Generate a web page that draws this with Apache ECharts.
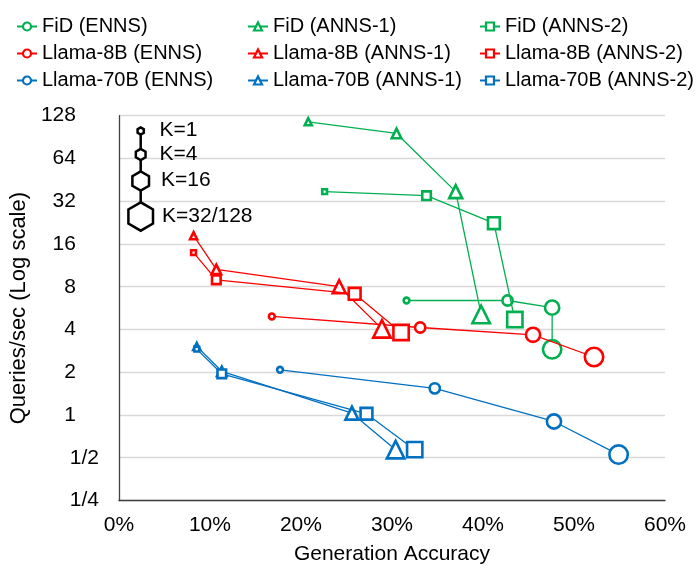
<!DOCTYPE html>
<html><head><meta charset="utf-8">
<script src="https://cdn.jsdelivr.net/npm/echarts@6/dist/echarts.min.js"></script>
<style>html,body{margin:0;padding:0;background:#fff}#c{width:698px;height:575px}</style>
</head><body><div id="c"></div>
<script>
// ---- data (x: generation accuracy %, y: queries/sec), points ordered K=1, K=4, K=16, K=32/128
const kLabels = ['K=1', 'K=4', 'K=16', 'K=32/128'];
const yTickValues = [0.25, 0.5, 1, 2, 4, 8, 16, 32, 64, 128];
const xTickLabels = ['0%', '10%', '20%', '30%', '40%', '50%', '60%'];

const fidENNS      = [[31.6, 6.4], [42.7, 6.4], [47.6, 5.7], [47.6, 2.9]];
const fidANNS1     = [[20.8, 116], [30.5, 96], [37.0, 37.4], [39.8, 5.1]];
const fidANNS2     = [[22.6, 37.4], [33.8, 35.0], [41.2, 22.4], [43.5, 4.7]];
const llama8ENNS   = [[16.8, 4.94], [33.1, 4.13], [45.5, 3.67], [52.2, 2.56]];
const llama8ANNS1  = [[8.2, 18.3], [10.7, 10.6], [24.2, 8.0], [28.9, 4.04]];
const llama8ANNS2  = [[8.2, 13.9], [10.7, 8.95], [25.9, 7.13], [31.0, 3.81]];
const llama70ENNS  = [[17.7, 2.08], [34.7, 1.54], [47.8, 0.90], [54.9, 0.526]];
const llama70ANNS1 = [[8.55, 3.04], [11.3, 2.03], [25.6, 1.03], [30.4, 0.57]];
const llama70ANNS2 = [[8.55, 2.91], [11.3, 1.95], [27.2, 1.02], [32.5, 0.57]];

const seriesNames = [
  'FiD (ENNS)', 'FiD (ANNS-1)', 'FiD (ANNS-2)',
  'Llama-8B (ENNS)', 'Llama-8B (ANNS-1)', 'Llama-8B (ANNS-2)',
  'Llama-70B (ENNS)', 'Llama-70B (ANNS-1)', 'Llama-70B (ANNS-2)'
];
const seriesData = [fidENNS, fidANNS1, fidANNS2, llama8ENNS, llama8ANNS1, llama8ANNS2, llama70ENNS, llama70ANNS1, llama70ANNS2];

// ---- styles
const GREEN = '#00B050', RED = '#FF0000', BLUE = '#0070C0';
const colors = [GREEN, GREEN, GREEN, RED, RED, RED, BLUE, BLUE, BLUE];
const shapes = ['circle', 'triangle', 'rect'];
const shapeSizes = {
  circle:   [5.8, 10.2, 14.2, 18.4],
  triangle: [7, 9.5, 13, 17.5],
  rect:     [4.8, 8.6, 11.8, 15.3]
};
const FONT = '"Liberation Sans", Arial, sans-serif';

const series = seriesData.map((d, i) => {
  const shape = shapes[i % 3];
  return {
    name: seriesNames[i],
    type: 'line',
    data: d,
    symbol: shape,
    symbolSize: (v, p) => shapeSizes[shape][p.dataIndex],
    lineStyle: { color: colors[i], width: 1.3 },
    itemStyle: { color: '#fff', borderColor: colors[i], borderWidth: 2.6 },
    emphasis: { disabled: true },
    z: 2 + i,
    animation: false
  };
});

function legendCol(names, left) {
  return {
    orient: 'vertical', left: left, top: 11.5,
    itemWidth: 20, itemHeight: 10, itemGap: 7,
    data: names,
    itemStyle: { borderWidth: 2.2 },
    textStyle: { fontSize: 20, fontFamily: FONT, color: '#000' },
    selectedMode: false
  };
}

// hexagon K legend
function hexPoints(cx, cy, r) {
  const pts = [];
  for (let k = 0; k < 6; k++) {
    const a = Math.PI / 2 + k * Math.PI / 3;
    pts.push([cx + r * Math.cos(a), cy - r * Math.sin(a)]);
  }
  return pts;
}
const hexCx = 140.7;
const hexCy = [131, 154.5, 181, 216.5];
const hexR = [3.6, 5.6, 9.6, 14.2];
const kTextX = [159.5, 159.5, 161, 162];
const graphics = [{
  type: 'line', shape: { x1: hexCx, y1: hexCy[0], x2: hexCx, y2: hexCy[3] },
  style: { stroke: '#000', lineWidth: 2.5 }, z: 50
}];
hexCy.forEach((cy, i) => {
  graphics.push({
    type: 'polygon', shape: { points: hexPoints(hexCx, cy, hexR[i]) },
    style: { fill: '#fff', stroke: '#000', lineWidth: 2.5 }, z: 51
  });
  graphics.push({
    type: 'text', left: kTextX[i], top: cy - 11,
    style: { text: kLabels[i], fontSize: 21, fontFamily: FONT, fill: '#000' }, z: 52
  });
});

const chart = echarts.init(document.getElementById('c'), null, { renderer: 'canvas' });
chart.setOption({
  animation: false,
  backgroundColor: '#fff',
  textStyle: { fontFamily: FONT },
  grid: { left: 115.7, right: 33, top: 115.7, bottom: 74.5 },
  legend: [
    legendCol(seriesNames.filter((n, i) => i % 3 === 0), 11),
    legendCol(seriesNames.filter((n, i) => i % 3 === 1), 242),
    legendCol(seriesNames.filter((n, i) => i % 3 === 2), 474)
  ],
  xAxis: {
    type: 'value', min: 0, max: 60, interval: 10,
    name: 'Generation Accuracy', nameLocation: 'middle', nameGap: 43,
    nameTextStyle: { fontSize: 21, fontFamily: FONT, color: '#000' },
    axisLine: { lineStyle: { color: '#404040', width: 1.3 } },
    axisTick: { show: false },
    splitLine: { show: false },
    axisLabel: {
      fontSize: 21, fontFamily: FONT, color: '#000', margin: 14,
      formatter: v => xTickLabels[Math.round(v / 10)]
    }
  },
  yAxis: {
    type: 'log', logBase: 2, min: yTickValues[0], max: yTickValues[yTickValues.length - 1],
    splitNumber: 9,
    name: 'Queries/sec (Log scale)', nameLocation: 'middle', nameGap: 85,
    nameTextStyle: { fontSize: 22, fontFamily: FONT, color: '#000' },
    axisLine: { show: true, lineStyle: { color: '#404040', width: 1.3 } },
    axisTick: { show: false },
    splitLine: { show: true, lineStyle: { color: '#D9D9D9', width: 1.3 } },
    axisLabel: {
      margin: 20,
      formatter: v => v >= 1 ? '{i|' + Math.round(v) + '}' : '{f|1/' + Math.round(1 / v) + '}',
      rich: {
        i: { fontSize: 21, fontFamily: FONT, color: '#000', padding: [0, 23, 0, 0] },
        f: { fontSize: 21, fontFamily: FONT, color: '#000' }
      }
    }
  },
  graphic: graphics,
  series: series
});
</script>
</body></html>
